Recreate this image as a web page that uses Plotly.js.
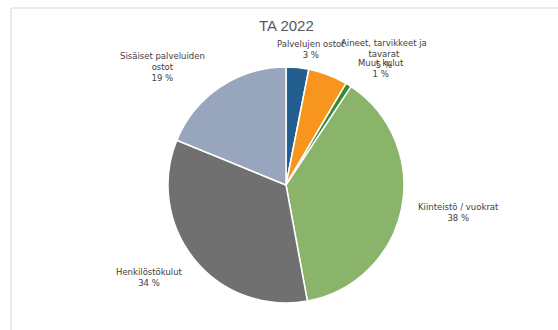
<!DOCTYPE html>
<html>
<head>
<meta charset="utf-8">
<script src="https://cdn.plot.ly/plotly-3.0.1.min.js"></script>
<style>html,body{margin:0;padding:0;background:#fff;}#chart{width:558px;height:330px;}</style>
</head>
<body>
<div id="chart"></div>
<script>
const chartTitle = "TA 2022";
const categories = ["Palvelujen ostot", "Aineet, tarvikkeet ja<br>tavarat", "Muut kulut", "Kiinteistö / vuokrat", "Henkilöstökulut", "Sisäiset palveluiden<br>ostot"];
const values = [3.1, 5.4, 0.8, 37.8, 34.1, 18.8];
const colors = ["#245E8E", "#F7951F", "#3A8A2E", "#8AB46A", "#707070", "#97A6BD"];
// label anchor positions in pixels (centre x, top y)
const labelPos = [[311, 37], [384, 36], [381, 56], [458, 200], [149, 265], [162, 49]];

const W = 558, H = 330;
const cx = 286, cy = 185, R = 118;
const total = values.reduce((a, b) => a + b, 0);

const annotations = categories.map((c, i) => ({
  text: c + "<br>" + Math.round(values[i] / total * 100) + " %",
  x: labelPos[i][0] / W, y: 1 - labelPos[i][1] / H,
  xref: "paper", yref: "paper", xanchor: "center", yanchor: "top",
  showarrow: false, align: "center",
  font: {family: "DejaVu Sans, Verdana, sans-serif", size: 8.5, color: "#404040"}
}));
annotations.push({
  text: chartTitle, x: 286 / W, y: 1 - 26 / H, xref: "paper", yref: "paper",
  xanchor: "center", yanchor: "middle", showarrow: false,
  font: {family: "Liberation Sans, Arial, sans-serif", size: 15, color: "#595959"}
});

const trace = {
  type: "pie",
  labels: categories,
  values: values,
  sort: false,
  direction: "clockwise",
  rotation: 0,
  textinfo: "none",
  hoverinfo: "label+percent",
  marker: {colors: colors, line: {color: "#ffffff", width: 1.5}},
  domain: {x: [(cx - R) / W, (cx + R) / W], y: [1 - (cy + R) / H, 1 - (cy - R) / H]},
  showlegend: false
};

const layout = {
  width: W, height: H,
  margin: {l: 0, r: 0, t: 0, b: 0},
  paper_bgcolor: "#ffffff",
  showlegend: false,
  annotations: annotations,
  shapes: [{
    type: "rect", xref: "paper", yref: "paper",
    x0: 11 / W, x1: 1.05, y0: -0.05, y1: 1 - 8 / H,
    line: {color: "#D9D9D9", width: 1}
  }]
};

Plotly.newPlot("chart", [trace], layout, {staticPlot: true});
</script>
</body>
</html>
